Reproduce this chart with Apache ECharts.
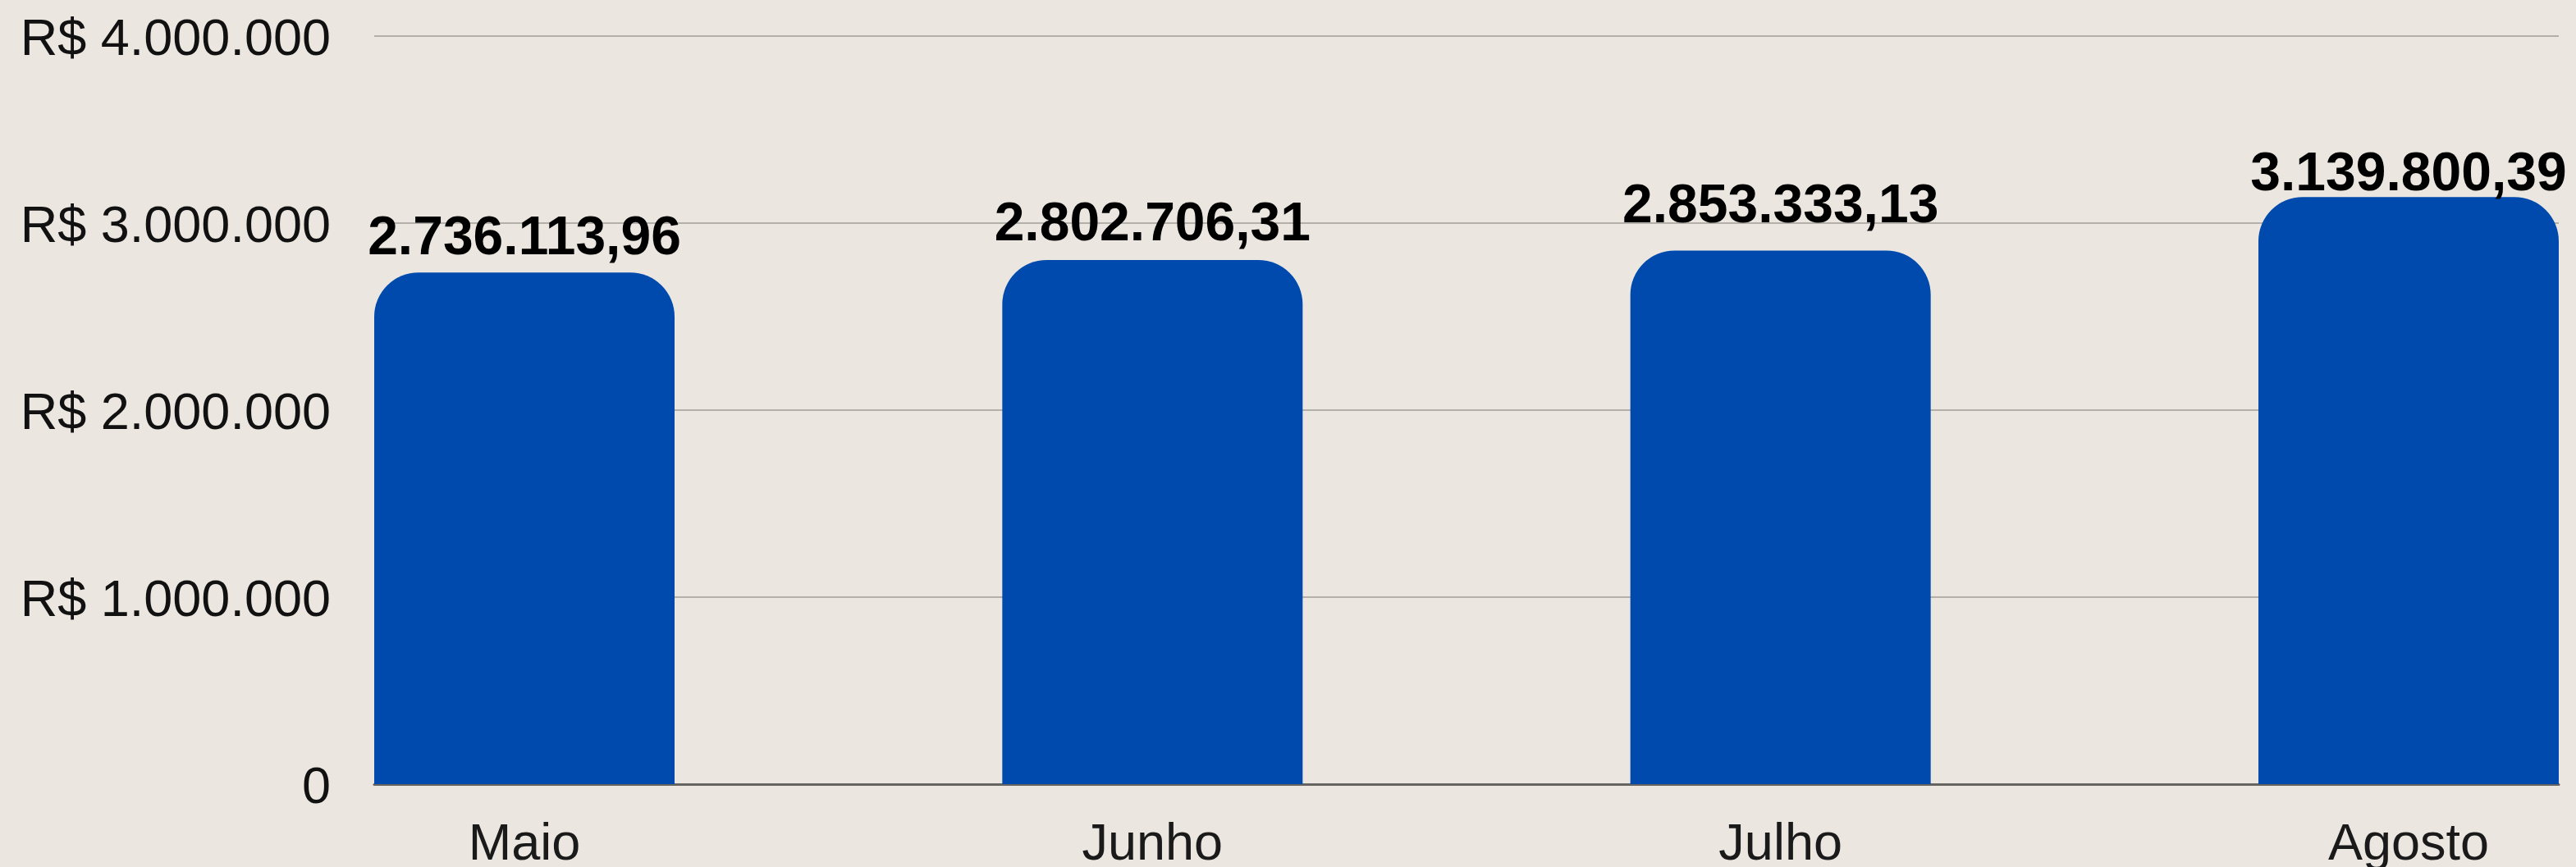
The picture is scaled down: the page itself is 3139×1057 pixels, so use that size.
<!DOCTYPE html>
<html>
<head>
<meta charset="utf-8">
<script src="https://cdn.jsdelivr.net/npm/echarts@6/dist/echarts.min.js"></script>
<style>
  html, body { margin: 0; padding: 0; background: #ebe6e0; }
  #chart { width: 3139px; height: 1057px; }
</style>
</head>
<body>
<div id="chart"></div>
<script>
const categories = ['Maio', 'Junho', 'Julho', 'Agosto'];
const values = [2736113.96, 2802706.31, 2853333.13, 3139800.39];
const yTickValues = [0, 1000000, 2000000, 3000000, 4000000];
const yTickLabels = ['0', 'R$ 1.000.000', 'R$ 2.000.000', 'R$ 3.000.000', 'R$ 4.000.000'];
// label styling (gap above each bar, px)
const labelDistances = [7, 9, 20, -7];

function fmtBR(v) {
  const fixed = v.toFixed(2);
  const parts = fixed.split('.');
  const intPart = parts[0].replace(/\B(?=(\d{3})+(?!\d))/g, '.');
  return intPart + ',' + parts[1];
}

const chart = echarts.init(document.getElementById('chart'), null, { renderer: 'canvas' });
const FONT = "'Liberation Sans', Arial, sans-serif";

chart.setOption({
  backgroundColor: '#ebe6e0',
  animation: false,
  grid: [
    { left: 456, right: 21, top: 44, bottom: 101, containLabel: false, outerBoundsMode: 'none' },
    { left: 639, right: 204, top: 44, bottom: 101, containLabel: false, outerBoundsMode: 'none' }
  ],
  xAxis: [
    {
      gridIndex: 0, type: 'value', min: 0, max: 1,
      axisLine: { show: true, onZero: false, lineStyle: { color: '#666460', width: 3 } },
      axisTick: { show: false }, axisLabel: { show: false }, splitLine: { show: false }
    },
    {
      gridIndex: 1, type: 'category', data: categories, boundaryGap: false,
      axisLine: { show: false }, axisTick: { show: false }, splitLine: { show: false },
      axisLabel: { margin: 43, fontSize: 63, fontFamily: FONT, color: '#1a1a1a' }
    }
  ],
  yAxis: [
    {
      gridIndex: 0, type: 'value', min: 0, max: 4000000, interval: 1000000,
      axisLine: { show: false }, axisTick: { show: false },
      splitLine: { show: true, lineStyle: { color: '#b3afa9', width: 2 } },
      axisLabel: {
        margin: 53, fontSize: 63, fontFamily: FONT, color: '#111',
        formatter: function (v) {
          const i = yTickValues.indexOf(v);
          return i >= 0 ? '{t|' + yTickLabels[i] + '}' : '';
        },
        rich: {
          t: { fontSize: 63, fontFamily: FONT, color: '#111', padding: [12, 0, 0, 0] }
        }
      }
    },
    {
      gridIndex: 1, type: 'value', min: 0, max: 4000000, interval: 1000000,
      show: false, splitLine: { show: false }
    }
  ],
  series: [
    {
      type: 'bar',
      xAxisIndex: 1, yAxisIndex: 1,
      data: values.map(function (v, i) {
        return { value: v, label: { distance: labelDistances[i] } };
      }),
      barWidth: 366,
      clip: false,
      itemStyle: { color: '#004aad', borderRadius: [54, 54, 0, 0] },
      label: {
        show: true, position: 'top',
        fontSize: 66, fontWeight: 'bold', fontFamily: FONT, color: '#000',
        formatter: function (p) { return fmtBR(p.value); }
      }
    }
  ]
});
</script>
</body>
</html>
